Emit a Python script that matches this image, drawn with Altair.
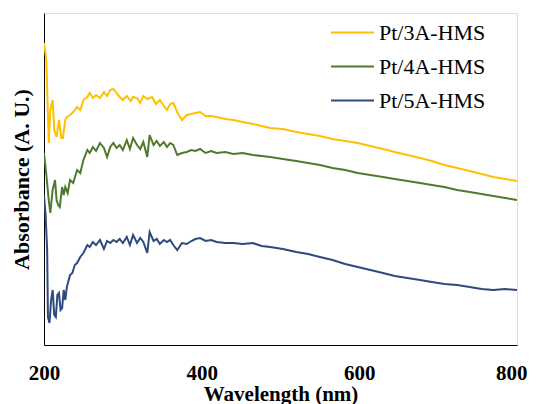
import altair as alt
import pandas as pd

series_names = ["Pt/3A-HMS", "Pt/4A-HMS", "Pt/5A-HMS"]
series_colors = ["#FFC000", "#4E7A2E", "#2E4A7D"]

wl_3a = [200, 203, 206, 208, 211, 213, 216, 219, 222, 224, 227, 229, 233, 237, 242, 246, 250, 255,
         258, 262, 266, 271, 276, 280, 284, 288, 292, 296, 300, 305, 310, 313, 318, 322, 326, 331,
         337, 342, 347, 352, 356, 360, 364, 369, 375, 381, 387, 392, 398, 405, 412, 419, 430, 440,
         452, 465, 476, 487, 503, 520, 535, 550, 566, 582, 598, 614, 630, 645, 661, 677, 692, 708,
         724, 740, 755, 770, 785, 800]
abs_3a = [3.02, 2.85, 2.02, 2.35, 2.45, 2.15, 2.08, 2.25, 2.07, 2.07, 2.25, 2.28, 2.30, 2.33, 2.38,
          2.35, 2.45, 2.48, 2.52, 2.47, 2.50, 2.47, 2.53, 2.49, 2.55, 2.56, 2.52, 2.48, 2.45, 2.49,
          2.44, 2.48, 2.47, 2.42, 2.49, 2.46, 2.48, 2.41, 2.45, 2.39, 2.35, 2.41, 2.42, 2.33, 2.25,
          2.30, 2.31, 2.32, 2.33, 2.29, 2.29, 2.28, 2.26, 2.25, 2.23, 2.21, 2.19, 2.17, 2.16, 2.13,
          2.11, 2.09, 2.06, 2.04, 2.02, 1.99, 1.96, 1.93, 1.90, 1.87, 1.84, 1.80, 1.77, 1.74, 1.71,
          1.68, 1.66, 1.64]

wl_4a = [200, 203, 206, 208, 211, 214, 216, 218, 220, 223, 225, 227, 230, 233, 237, 242, 246, 250,
         255, 258, 262, 266, 271, 276, 280, 284, 288, 292, 296, 300, 305, 309, 313, 318, 322, 326,
         331, 334, 339, 343, 347, 352, 356, 360, 364, 369, 375, 381, 387, 392, 398, 405, 412, 419,
         430, 440, 452, 465, 476, 487, 503, 520, 535, 550, 566, 582, 598, 614, 630, 645, 661, 677,
         692, 708, 724, 740, 755, 770, 785, 800]
abs_4a = [1.92, 1.70, 1.45, 1.32, 1.55, 1.65, 1.45, 1.40, 1.38, 1.58, 1.50, 1.58, 1.52, 1.65, 1.62,
          1.75, 1.72, 1.85, 1.95, 1.92, 1.98, 1.94, 2.02, 1.97, 1.88, 1.98, 2.02, 1.97, 2.00, 1.95,
          2.05, 1.96, 2.07, 2.00, 1.96, 2.03, 1.88, 2.10, 2.00, 2.04, 1.99, 2.03, 1.98, 2.02, 2.00,
          1.90, 1.92, 1.93, 1.95, 1.94, 1.96, 1.92, 1.94, 1.92, 1.93, 1.91, 1.92, 1.90, 1.89, 1.88,
          1.86, 1.84, 1.82, 1.80, 1.77, 1.75, 1.72, 1.70, 1.68, 1.66, 1.64, 1.62, 1.60, 1.58, 1.55,
          1.53, 1.51, 1.49, 1.47, 1.45]

wl_5a = [200, 202, 204, 205, 207, 209, 211, 213, 215, 217, 219, 221, 223, 225, 227, 229, 233, 236,
         239, 242, 246, 250, 255, 258, 262, 266, 271, 276, 280, 284, 288, 292, 296, 300, 305, 309,
         313, 318, 322, 326, 331, 334, 339, 343, 347, 352, 356, 360, 364, 369, 375, 381, 387, 392,
         398, 405, 412, 419, 430, 440, 452, 465, 476, 487, 503, 520, 535, 550, 566, 582, 598, 614,
         630, 645, 661, 677, 692, 708, 724, 740, 755, 770, 785, 800]
abs_5a = [1.50, 1.30, 0.95, 0.28, 0.22, 0.45, 0.55, 0.30, 0.28, 0.50, 0.52, 0.35, 0.37, 0.55, 0.45,
          0.58, 0.70, 0.72, 0.80, 0.82, 0.88, 0.92, 1.00, 0.98, 1.03, 1.00, 1.05, 0.96, 1.04, 1.02,
          1.05, 1.03, 1.06, 1.02, 1.08, 1.00, 1.10, 1.02, 1.07, 1.03, 0.92, 1.13, 1.04, 1.06, 1.01,
          1.05, 1.03, 1.05, 1.00, 0.95, 1.02, 1.01, 1.04, 1.06, 1.07, 1.04, 1.05, 1.03, 1.02, 1.02,
          1.01, 1.02, 0.99, 0.98, 0.96, 0.93, 0.91, 0.88, 0.85, 0.81, 0.78, 0.75, 0.72, 0.69, 0.67,
          0.65, 0.63, 0.61, 0.60, 0.58, 0.56, 0.55, 0.56, 0.55]

rows = []
for name, wls, vals in zip(series_names, [wl_3a, wl_4a, wl_5a], [abs_3a, abs_4a, abs_5a]):
    for i, (w, v) in enumerate(zip(wls, vals)):
        rows.append({"series": name, "wavelength": w, "absorbance": v, "order": i})
df = pd.DataFrame(rows)

FONT = "Liberation Serif"

chart = alt.Chart(df).mark_line(strokeWidth=2, clip=True).encode(
    x=alt.X("wavelength:Q",
            scale=alt.Scale(domain=[200, 800], nice=False),
            axis=alt.Axis(title="Wavelength (nm)", values=[200, 400, 600, 800],
                          ticks=False, tickSize=0, grid=False, labelPadding=17,
                          labelFont=FONT, labelFontSize=21, labelFontWeight="bold",
                          labelColor="#000", titleFont=FONT, titleFontSize=21,
                          titleFontWeight="bold", titleColor="#000", titlePadding=0,
                          domainColor="#000", labelFlush=False,
                          labelAlign={"condition": {"test": "datum.value == 800", "value": "right"},
                                      "value": "center"},
                          labelOffset={"condition": {"test": "datum.value == 800", "value": 10},
                                       "value": 0})),
    y=alt.Y("absorbance:Q",
            scale=alt.Scale(domain=[0, 3.32], nice=False),
            axis=alt.Axis(title="Absorbance (A. U.)", labels=False, ticks=False, grid=False,
                          titleFont=FONT, titleFontSize=22, titleFontWeight="bold",
                          titleColor="#000", titlePadding=11, domainColor="#000")),
    color=alt.Color("series:N",
                    scale=alt.Scale(domain=series_names, range=series_colors),
                    legend=alt.Legend(title=None, orient="none", legendX=286, legendY=-3,
                                      symbolType="stroke", symbolSize=1849,
                                      symbolStrokeWidth=2, labelFont=FONT, labelFontSize=22,
                                      labelColor="#000", rowPadding=-1, labelOffset=4)),
    order="order:Q",
).properties(
    width=473, height=332,
    autosize=alt.AutoSizeParams(type="none"),
    padding={"left": 36, "top": 5, "right": 11, "bottom": 59},
).configure_view(stroke="#000", strokeWidth=1).configure(background="white")

chart.save("out.html", embed_options={"renderer": "svg", "actions": False})
